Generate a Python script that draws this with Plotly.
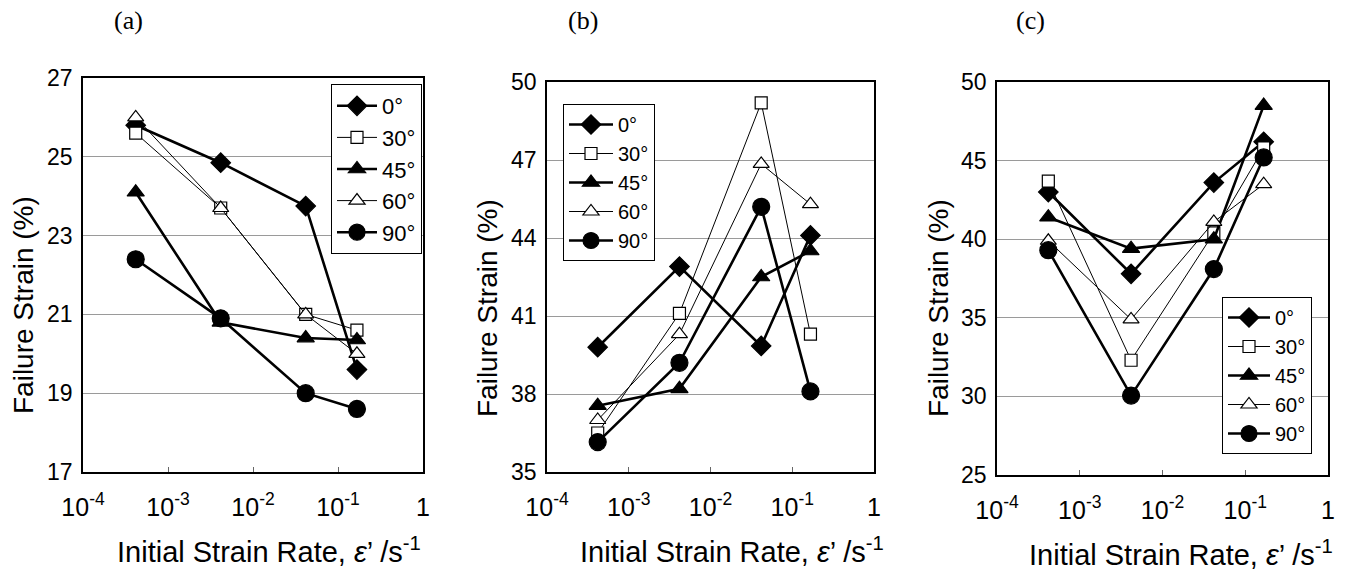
import plotly.graph_objects as go

W, H = 1348, 572

# ---------------- data ----------------
strain_rate = [4.17e-4, 4.17e-3, 4.17e-2, 1.67e-1]
angles = ["0°", "30°", "45°", "60°", "90°"]

# panel (a)
a_0 = [25.8, 24.85, 23.75, 19.6]
a_30 = [25.6, 23.7, 21.0, 20.6]
a_45 = [24.1, 20.8, 20.4, 20.35]
a_60 = [26.0, 23.7, 21.0, 20.0]
a_90 = [22.4, 20.9, 19.0, 18.6]

# panel (b)
b_0 = [39.8, 42.9, 39.85, 44.1]
b_30 = [36.5, 41.1, 49.2, 40.3]
b_45 = [37.55, 38.2, 42.5, 43.5]
b_60 = [37.0, 40.3, 46.85, 45.3]
b_90 = [36.15, 39.2, 45.2, 38.1]

# panel (c)
c_0 = [43.0, 37.8, 43.6, 46.2]
c_30 = [43.7, 32.3, 40.4, 45.8]
c_45 = [41.4, 39.4, 40.0, 48.5]
c_60 = [39.9, 34.9, 41.1, 43.5]
c_90 = [39.3, 30.05, 38.1, 45.2]

x_tickvals = [1e-4, 1e-3, 1e-2, 1e-1, 1]
x_ticktext = ["10<sup>-4</sup>", "10<sup>-3</sup>", "10<sup>-2</sup>", "10<sup>-1</sup>", "1"]
a_yticks = [17, 19, 21, 23, 25, 27]
b_yticks = [35, 38, 41, 44, 47, 50]
c_yticks = [25, 30, 35, 40, 45, 50]
panel_labels = ["(a)", "(b)", "(c)"]
x_title = "Initial Strain Rate, <i>ε</i>’ /s<sup>-1</sup>"
y_title = "Failure Strain (%)"

# ---------------- styles ----------------
FONT = "Liberation Sans, Arial, sans-serif"
styles = [
    dict(symbol="diamond", size=15, fill="black", lw=2.6),
    dict(symbol="square", size=12, fill="white", lw=1.0),
    dict(symbol="triangle-up", size=15, fill="black", lw=2.6),
    dict(symbol="triangle-up", size=14, fill="white", lw=1.0),
    dict(symbol="circle", size=17, fill="black", lw=2.6),
]

# pixel geometry of the three panels (left, right, top, bottom)
panels_px = [(83, 423, 78, 472), (547, 874, 82, 472), (997, 1328, 82, 475)]
legends_px = [(331, 84), (563, 104), (1222, 297)]
legend_font = [22, 20, 20]
legend_itemw = [40, 44, 42]
ytitle_px = [(23, 305), (487, 308), (938, 308)]
xtitle_px = [(269, 550), (732, 550), (1181, 553)]
label_px = [(128, 20), (583, 20), (1030, 20)]

series = [
    [a_0, a_30, a_45, a_60, a_90],
    [b_0, b_30, b_45, b_60, b_90],
    [c_0, c_30, c_45, c_60, c_90],
]
yticks = [a_yticks, b_yticks, c_yticks]

fig = go.Figure()

for p in range(3):
    sfx = "" if p == 0 else str(p + 1)
    leg = "legend" if p == 0 else f"legend{p + 1}"
    for k, ang in enumerate(angles):
        st = styles[k]
        fig.add_trace(go.Scatter(
            x=strain_rate, y=series[p][k], name=ang,
            mode="lines+markers",
            line=dict(color="black", width=st["lw"]),
            marker=dict(symbol=st["symbol"], size=st["size"], color=st["fill"],
                        line=dict(color="black", width=1.2)),
            xaxis="x" + sfx, yaxis="y" + sfx, legend=leg,
        ))

    l, r, t, b = panels_px[p]
    xd = [l / W, r / W]
    yd = [1 - b / H, 1 - t / H]
    yt = yticks[p]
    fig.update_layout(**{
        "xaxis" + sfx: dict(
            domain=xd, type="log", range=[-4, 0], anchor="y" + sfx,
            tickvals=x_tickvals, ticktext=x_ticktext,
            ticks="inside", ticklen=5, tickcolor="#666", tickwidth=1,
            showgrid=False, zeroline=False, automargin=False,
            showline=True, linecolor="black", linewidth=1.6, mirror=True,
            tickfont=dict(family=FONT, size=25, color="black"),
            ticklabelstandoff=12,
        ),
        "yaxis" + sfx: dict(
            domain=yd, range=[yt[0], yt[-1]], anchor="x" + sfx,
            tickvals=yt, ticks="", showgrid=True, gridcolor="#9a9a9a", gridwidth=1,
            zeroline=False, automargin=False,
            showline=True, linecolor="black", linewidth=1.6, mirror=True,
            tickfont=dict(family=FONT, size=23, color="black"),
            ticklabelstandoff=4,
        ),
        leg: dict(
            x=legends_px[p][0] / W, y=1 - legends_px[p][1] / H,
            xanchor="left", yanchor="top",
            bgcolor="white", bordercolor="black", borderwidth=1,
            font=dict(family=FONT, size=legend_font[p], color="black"),
            itemwidth=legend_itemw[p], tracegroupgap=0,
        ),
    })

    fig.add_annotation(x=ytitle_px[p][0] / W, y=1 - ytitle_px[p][1] / H,
                       xref="paper", yref="paper", text=y_title, textangle=-90,
                       xanchor="center", yanchor="middle",
                       showarrow=False, font=dict(family=FONT, size=28, color="black"))
    fig.add_annotation(x=xtitle_px[p][0] / W, y=1 - xtitle_px[p][1] / H,
                       xref="paper", yref="paper", text=x_title,
                       xanchor="center", yanchor="middle",
                       showarrow=False, font=dict(family=FONT, size=29, color="black"))
    fig.add_annotation(x=label_px[p][0] / W, y=1 - label_px[p][1] / H,
                       xref="paper", yref="paper", text=panel_labels[p],
                       xanchor="center", yanchor="middle",
                       showarrow=False,
                       font=dict(family="Liberation Serif, Times New Roman, serif", size=26, color="black"))

fig.update_layout(
    width=W, height=H,
    margin=dict(l=0, r=0, t=0, b=0, pad=0, autoexpand=False),
    paper_bgcolor="white", plot_bgcolor="white",
    showlegend=True,
)

fig.write_html("out.html")
